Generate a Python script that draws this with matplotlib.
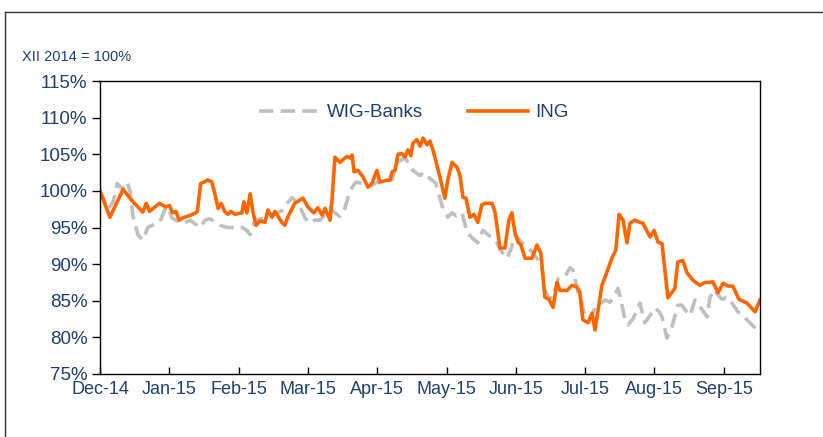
import matplotlib
matplotlib.use("Agg")
import matplotlib.pyplot as plt
from matplotlib.lines import Line2D

plt.rcParams['font.family'] = ['Liberation Sans', 'DejaVu Sans']

# x positions are trading days since the Dec-14 tick (about 21 per month)
month_labels = ["Dec-14", "Jan-15", "Feb-15", "Mar-15", "Apr-15", "May-15",
                "Jun-15", "Jul-15", "Aug-15", "Sep-15"]
month_pos = [0, 21, 42, 63, 84, 105, 126, 147, 168, 189]

ing_x = [0, 3, 7, 10, 11.5, 13, 14, 15, 18, 20, 21, 22, 23, 24, 25, 27, 29, 29.5,
         30.5, 31.5, 32.7, 33.9, 34.8, 35.8, 36.7, 37.9, 38.8, 39.7, 40.9, 43, 43.6,
         44.5, 45.5, 46.4, 47.3, 48.5, 50, 50.9, 52.1, 53, 55.1, 56, 57, 59, 61.5, 63,
         64.8, 66, 67.3, 68.2, 69.7, 70.3, 71.2, 72.7, 74.8, 75.8, 76.4, 77, 78.2, 79.7,
         81.2, 82.4, 83.9, 84.8, 86.4, 87.9, 88.5, 89.4, 90.3, 91.5, 92.4, 93.3, 94.2,
         94.8, 96, 97, 97.9, 99.1, 100, 100.9, 103, 104.5, 105.4, 106.7, 108.2, 109.1,
         110, 110.9, 112.1, 113.3, 114.5, 115.7, 116.7, 118.8, 119.7, 121.2, 122.7,
         123.9, 124.8, 125.7, 126.7, 127.6, 128.8, 130.9, 132.4, 133.6, 134.8, 136,
         137.3, 138.5, 139.4, 141.5, 143, 144.5, 145.4, 146.3, 147.9, 149.1, 150,
         152.1, 153.6, 155.1, 156.3, 157.3, 158.5, 159.7, 160.6, 162.1, 163.6, 164.5,
         166.7, 167.9, 169.1, 170.3, 172.1, 174.2, 175.1, 176.6, 177.9, 179.7, 181.8,
         183.3, 184.8, 185.7, 187.3, 188.8, 190.3, 191.8, 193.6, 196, 198.5, 200]
ing_y = [100.0, 96.4, 100.2, 98.5, 97.8, 97.1, 98.3, 97.2, 98.3, 97.8, 98.0, 97.0, 97.2,
         96.0, 96.3, 96.6, 97.0, 97.2, 101.0, 101.2, 101.5, 101.2, 99.6, 97.6, 98.3,
         97.1, 96.8, 97.2, 96.8, 97.0, 98.5, 97.0, 99.6, 97.0, 95.3, 95.9, 95.7, 97.4,
         96.4, 97.2, 95.7, 95.3, 96.5, 98.3, 99.0, 97.8, 97.0, 97.7, 96.7, 97.6, 96.0,
         98.7, 104.6, 103.9, 104.7, 104.5, 104.9, 102.6, 102.8, 101.9, 100.5, 101.0,
         102.8, 101.2, 101.4, 101.5, 102.6, 102.8, 105.0, 105.1, 104.6, 105.6, 104.8,
         106.5, 107.0, 106.1, 107.2, 106.3, 106.8, 105.6, 101.9, 99.0, 101.5, 103.9,
         103.2, 102.1, 99.1, 99.0, 96.4, 96.8, 95.7, 98.1, 98.3, 98.3, 97.1, 92.2, 92.2,
         96.0, 97.0, 94.4, 93.0, 92.6, 90.8, 90.8, 92.6, 91.5, 85.5, 85.2, 84.1, 87.5,
         86.4, 86.4, 87.1, 86.9, 86.2, 82.4, 82.0, 83.3, 81.0, 87.1, 88.9, 90.8, 91.9,
         96.8, 96.0, 92.9, 95.6, 96.0, 95.7, 95.6, 93.7, 94.6, 93.0, 92.8, 85.4, 86.7,
         90.3, 90.5, 88.8, 87.8, 87.1, 87.5, 87.5, 87.6, 86.1, 87.4, 87.0, 87.0, 85.2,
         84.7, 83.5, 85.1]

wig_x = [0, 2.4, 4, 5.2, 6.7, 8.2, 9.1, 10, 11.5, 13, 14.5, 16.7, 18.2, 19.7, 20.6,
         21.8, 23, 24.8, 27.3, 28.8, 30.3, 31.8, 33.3, 34.8, 36.4, 38.5, 40.9, 43,
         44.5, 45.5, 47, 49, 50.9, 53, 55.1, 56.7, 58.2, 59.4, 60.6, 62.1, 63.6, 65.1,
         66.7, 68.2, 69.7, 71.2, 72.7, 74.2, 75.4, 76.4, 77.6, 79.4, 81.2, 82.4, 84.2,
         86.4, 88.5, 90, 91.2, 92.4, 93.9, 94.8, 96, 97, 97.9, 99.1, 100.6, 101.8, 103,
         103.9, 105.4, 106.7, 107.9, 109.7, 111.2, 112.7, 114.5, 116, 118.2, 120.3,
         121.2, 123.3, 124.5, 125.7, 127.8, 129.7, 131.2, 132.7, 133.9, 134.8, 136,
         137.3, 138.8, 140.9, 142.4, 143.3, 144.8, 146, 147.2, 148.5, 150, 151.5, 153,
         154.5, 155.7, 157, 157.9, 158.8, 160, 161.6, 163.6, 165.1, 166.7, 168.2, 169.4,
         170.3, 171.8, 173.3, 175.1, 176.3, 177.6, 178.8, 180.3, 182.1, 184, 184.8, 186,
         187.3, 188.5, 190, 191.8, 193.3, 195.6, 197.4, 199.1]
wig_y = [100.0, 97.5, 98.5, 101.0, 100.3, 101.2, 100.0, 96.5, 94.0, 93.3, 95.0, 95.5,
         95.8, 97.5, 97.8, 96.3, 96.0, 95.5, 96.0, 95.5, 95.0, 96.0, 96.2, 95.8, 95.3,
         95.0, 95.0, 95.0, 94.6, 94.0, 96.0, 96.2, 96.5, 96.8, 97.3, 98.3, 99.1, 98.5,
         97.8, 96.3, 95.6, 96.0, 96.0, 96.8, 97.6, 97.0, 96.5, 97.6, 99.5, 100.5, 101.2,
         101.0, 100.6, 100.8, 101.2, 101.3, 101.5, 103.8, 104.2, 104.5, 103.5, 102.8,
         102.4, 102.1, 102.5, 102.0, 101.5, 101.0, 99.0, 97.6, 96.4, 97.0, 96.6, 97.0,
         94.4, 93.6, 92.9, 94.6, 93.8, 92.9, 92.0, 90.8, 92.0, 94.0, 93.0, 92.3, 91.5,
         90.6, 89.6, 86.5, 85.4, 85.4, 88.0, 88.3, 89.5, 89.2, 86.2, 84.7, 82.5, 82.5,
         84.0, 84.5, 85.1, 84.8, 85.5, 86.7, 85.1, 83.0, 81.7, 82.6, 84.7, 82.0, 83.0,
         84.0, 83.5, 82.8, 79.9, 81.4, 84.4, 84.4, 83.6, 83.0, 85.1, 84.0, 82.8, 85.4,
         86.5, 85.8, 85.2, 85.5, 84.5, 83.5, 82.6, 81.8, 81.0]

y_ticks = [75, 80, 85, 90, 95, 100, 105, 110, 115]

label_color = '#1F3F6E'

fig = plt.figure(figsize=(8.23, 4.37), dpi=100)
ax = fig.add_axes([100 / 823, 1 - 374 / 437, 660 / 823, 293 / 437])

ax.plot(wig_x, wig_y, color='#BFBFBF', lw=2.6, dashes=(4, 2), label='WIG-Banks',
        dash_capstyle='butt', dash_joinstyle='round')
ax.plot(ing_x, ing_y, color='#FF6600', lw=2.6, label='ING', solid_joinstyle='round')

ax.set_xlim(0, 200)
ax.set_ylim(75, 115)
ax.set_yticks(y_ticks)
ax.set_yticklabels([f"{v}%" for v in y_ticks])
ax.set_xticks(month_pos)
ax.set_xticklabels(month_labels)

ax.tick_params(axis='y', direction='out', length=6, width=1, color='black',
               labelsize=13.5, labelcolor=label_color, pad=3)
ax.tick_params(axis='x', direction='in', length=5, width=1, color='black',
               labelsize=13, labelcolor=label_color, pad=5)
for s in ax.spines.values():
    s.set_color('black')
    s.set_linewidth(1)

leg = ax.legend(loc='center', bbox_to_anchor=(0.476, 0.891), ncol=2, frameon=False,
                fontsize=13.5, handlelength=3.2, handletextpad=0.4, columnspacing=2.4)
for t in leg.get_texts():
    t.set_color(label_color)

fig.text(22 / 823, 1 - 57 / 437, "XII 2014 = 100%", fontsize=10.5, color=label_color,
         va='center', ha='left')

# outer frame lines
fig.add_artist(Line2D([5 / 823, 1.0], [1 - 12 / 437, 1 - 12 / 437],
                      transform=fig.transFigure, color='#333333', lw=1))
fig.add_artist(Line2D([5 / 823, 5 / 823], [0, 1 - 12 / 437],
                      transform=fig.transFigure, color='#333333', lw=1))

fig.savefig("out.png", dpi=100)
